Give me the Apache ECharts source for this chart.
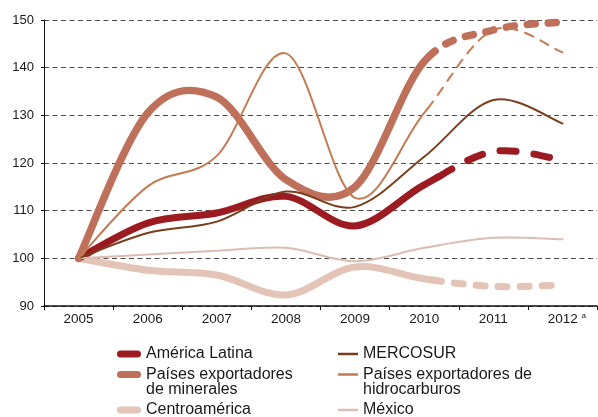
<!DOCTYPE html>
<html>
<head>
<meta charset="utf-8">
<script src="https://cdn.jsdelivr.net/npm/echarts@6/dist/echarts.min.js"></script>
<style>
html,body{margin:0;padding:0;background:#fff;}
#chart{width:598px;height:417px;}
</style>
</head>
<body>
<div id="chart"></div>
<script>
const categories = ['2005', '2006', '2007', '2008', '2009', '2010', '2011', '2012'];
const americaLatina = [100, 107.4, 109.5, 113, 106.8, 115.4, 122.4, 120.6];
const mercosur = [100, 105.3, 107.7, 114, 110.8, 121.3, 133.2, 128.3];
const exportMinerales = [100, 130.5, 133.8, 116.5, 115, 141.3, 147.9, 149.6];
const exportHidrocarburos = [100, 115.1, 121.5, 143, 112.7, 130.5, 147.9, 143.2];
const centroamerica = [100, 97.5, 96.5, 92.3, 98.2, 95.7, 94.1, 94.4];
const mexico = [100, 100.8, 101.6, 102.2, 99.4, 102.2, 104.3, 104];
const yTicks = [90, 100, 110, 120, 130, 140, 150];

const FONT = 'Liberation Sans, Arial, sans-serif';
const C = {
  al: '#9c1b20',
  merc: '#7a3e1c',
  min: '#bf705b',
  hid: '#c47b52',
  ca: '#e3c4b7',
  mex: '#dbbeb1'
};
const pill = 'path://M3.5,0 L20.5,0 A3.5,3.5 0 0 1 20.5,7 L3.5,7 A3.5,3.5 0 0 1 3.5,0 Z';

// --- smooth (Catmull-Rom style) curve through the data, via the axis scales ---
function lerp(a, b, t) { return [a[0] + (b[0] - a[0]) * t, a[1] + (b[1] - a[1]) * t]; }
function splitLeft(p, t) {
  const a = lerp(p[0], p[1], t), b = lerp(p[1], p[2], t), c = lerp(p[2], p[3], t);
  const d = lerp(a, b, t), e = lerp(b, c, t), f = lerp(d, e, t);
  return [p[0], a, d, f];
}
function splitRight(p, t) {
  const a = lerp(p[0], p[1], t), b = lerp(p[1], p[2], t), c = lerp(p[2], p[3], t);
  const d = lerp(a, b, t), e = lerp(b, c, t), f = lerp(d, e, t);
  return [f, e, c, p[3]];
}
function subCurve(p, t0, t1) {
  if (t1 <= 0) return null;
  const left = t1 < 1 ? splitLeft(p, t1) : p;
  return t0 > 0 ? splitRight(left, t0 / t1) : left;
}
function curvePath(api, values, from, to) {
  const pts = values.map(function (v, i) { return api.coord([i, v]); });
  const n = pts.length;
  const P = function (i) { return pts[Math.max(0, Math.min(n - 1, i))]; };
  let d = '';
  for (let k = 0; k < n - 1; k++) {
    const a = Math.max(from, k) - k, b = Math.min(to, k + 1) - k;
    if (b <= a) continue;
    const p0 = P(k), p3 = P(k + 1), pm = P(k - 1), pp = P(k + 2);
    const cp1 = [p0[0] + (p3[0] - pm[0]) / 6, p0[1] + (p3[1] - pm[1]) / 6];
    const cp2 = [p3[0] - (pp[0] - p0[0]) / 6, p3[1] - (pp[1] - p0[1]) / 6];
    const s = subCurve([p0, cp1, cp2, p3], a, b);
    if (!s) continue;
    if (!d) d += 'M' + s[0][0] + ',' + s[0][1];
    d += 'C' + s[1][0] + ',' + s[1][1] + ' ' + s[2][0] + ',' + s[2][1] + ' ' + s[3][0] + ',' + s[3][1];
  }
  return d;
}

const series = [];
function addLine(name, values, color, width, from, to, dash) {
  series.push({
    type: 'custom', name: name, data: values, silent: true, animation: false,
    color: color, clip: false,
    renderItem: function (params, api) {
      if (params.dataIndex !== 0) return null;
      return {
        type: 'path',
        shape: { pathData: curvePath(api, values, from, to) },
        style: {
          fill: 'none', stroke: color, lineWidth: width,
          lineCap: 'round', lineJoin: 'round', lineDash: dash || null
        },
        silent: true
      };
    }
  });
}
const END = categories.length - 1;
// thick lines
addLine('Centroamérica', centroamerica, C.ca, 7, 0, 5.12);
addLine('Centroamérica', centroamerica, C.ca, 7, 5.12, END, [9, 13]);
addLine('América Latina', americaLatina, C.al, 7, 0, 5.2);
addLine('América Latina', americaLatina, C.al, 7, 5.2, END, [16, 18]);
addLine('Países exportadores de minerales', exportMinerales, C.min, 7.5, 0, 5.07);
addLine('Países exportadores de minerales', exportMinerales, C.min, 7.5, 5.07, END, [8, 13]);
// thin lines
addLine('México', mexico, C.mex, 2, 0, END);
addLine('MERCOSUR', mercosur, C.merc, 2, 0, END);
addLine('Países exportadores de hidrocarburos', exportHidrocarburos, C.hid, 2, 0, 5.05);
addLine('Países exportadores de hidrocarburos', exportHidrocarburos, C.hid, 2, 5.05, END, [9, 8]);

function legend(name, label, color, thick, left, top) {
  return {
    left: left, top: top, padding: 0, selectedMode: false,
    itemWidth: thick ? 24 : 20, itemHeight: thick ? 7 : 2.5,
    textStyle: { fontSize: 16, color: '#1a1a1a', fontFamily: FONT },
    formatter: function () { return label; },
    data: [{ name: name, icon: thick ? pill : 'rect', itemStyle: { color: color, borderWidth: 0 } }]
  };
}

const option = {
  animation: false,
  backgroundColor: '#fff',
  grid: { left: 44, right: 1, top: 20, bottom: 111, containLabel: false },
  xAxis: {
    type: 'category', data: categories, boundaryGap: true,
    axisLine: { lineStyle: { color: '#111', width: 1.5 } },
    axisTick: { show: true, length: 4, lineStyle: { color: '#111', width: 1 } },
    axisLabel: {
      interval: 0, margin: 6, fontSize: 13.5, color: '#1a1a1a', fontFamily: FONT,
      formatter: function (v) { return v === '2012' ? '{pad|}' + v + ' {sup|a}' : v; },
      rich: {
        pad: { width: 9 },
        sup: { fontSize: 8, color: '#1a1a1a', fontFamily: FONT, padding: [0, 0, 6, 0] }
      }
    },
    splitLine: { show: false }
  },
  yAxis: {
    type: 'value', min: yTicks[0], max: yTicks[yTicks.length - 1], interval: 10,
    axisLine: { show: true, lineStyle: { color: '#111', width: 1 } },
    axisTick: { show: true, length: 3, lineStyle: { color: '#111' } },
    axisLabel: { margin: 10, fontSize: 13, color: '#1a1a1a', fontFamily: FONT },
    splitLine: { show: true, lineStyle: { color: '#4a4a4a', width: 1, type: [5, 3.5] } }
  },
  legend: [
    legend('América Latina', 'América Latina', C.al, true, 117, 346),
    legend('Países exportadores de minerales', 'Países exportadores', C.min, true, 117, 366.5),
    legend('Centroamérica', 'Centroamérica', C.ca, true, 117, 402),
    legend('MERCOSUR', 'MERCOSUR', C.merc, false, 338, 346),
    legend('Países exportadores de hidrocarburos', 'Países exportadores de', C.hid, false, 338, 366.5),
    legend('México', 'México', C.mex, false, 338, 402)
  ],
  graphic: [
    { type: 'text', x: 146, y: 389.5, silent: true,
      style: { text: 'de minerales', fontSize: 16, fontFamily: FONT, fill: '#1a1a1a', verticalAlign: 'middle' } },
    { type: 'text', x: 363, y: 389.5, silent: true,
      style: { text: 'hidrocarburos', fontSize: 16, fontFamily: FONT, fill: '#1a1a1a', verticalAlign: 'middle' } }
  ],
  series: series
};

const chart = echarts.init(document.getElementById('chart'), null, { renderer: 'canvas' });
chart.setOption(option);
</script>
</body>
</html>
